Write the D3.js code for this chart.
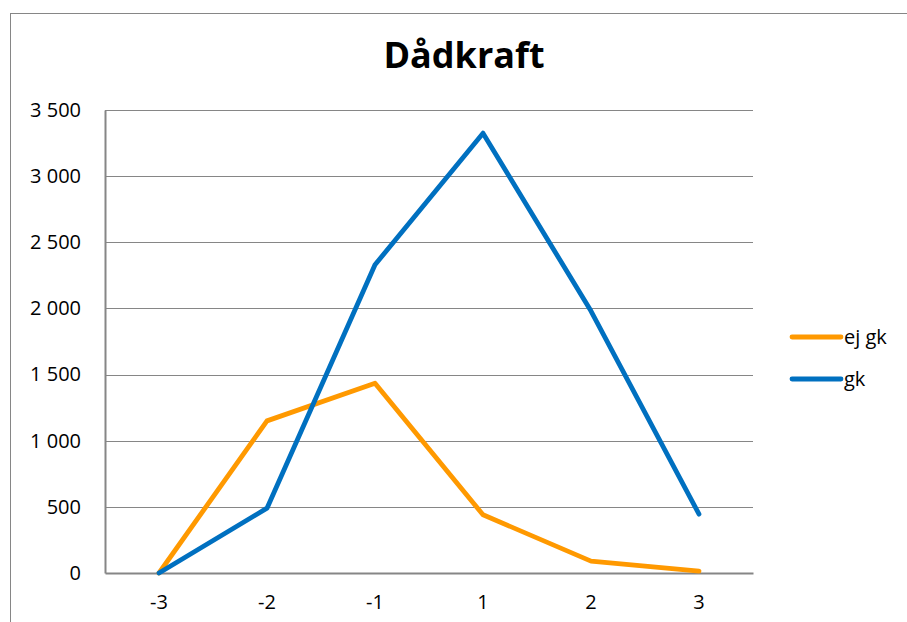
<!DOCTYPE html>
<html><head><meta charset="utf-8">
<script src="https://cdn.jsdelivr.net/npm/d3@7"></script>
<style>body{margin:0;background:#fff;} svg{display:block;}</style>
</head><body>
<script>
const categories = ["-3","-2","-1","1","2","3"];
const ejGk = [0, 1150, 1435, 440, 90, 15];
const gk = [0, 490, 2330, 3325, 1980, 445];
const yTicks = [0,500,1000,1500,2000,2500,3000,3500];
const seriesNames = ["ej gk","gk"];
const colors = ["#FF9900","#0070C0"];

(function(){
const W=907,H=622;
const svg=d3.select("body").append("svg").attr("width",W).attr("height",H);
const font="'Open Sans', Lato, sans-serif";
svg.append("rect").attr("x",10.5).attr("y",13.5).attr("width",W).attr("height",H)
  .attr("fill","#fff").attr("stroke","#868686").attr("stroke-width",1);

const pL=105, pR=753, pT=110, pB=573;
const x=d3.scaleBand().domain(categories).range([pL,pR]);
const y=d3.scaleLinear().domain([0,3500]).range([pB,pT]);

svg.append("g").selectAll("line").data(yTicks.filter(d=>d>0)).join("line")
  .attr("x1",pL).attr("x2",pR).attr("y1",d=>Math.round(y(d))+0.5).attr("y2",d=>Math.round(y(d))+0.5)
  .attr("stroke","#868686").attr("stroke-width",1);

const fmt=d=>d3.format(",")(d).replace(/,/g," ");
const yAxis=svg.append("g").attr("transform",`translate(${pL},0)`)
  .call(d3.axisLeft(y).tickValues(yTicks).tickFormat(fmt).tickSize(0).tickPadding(24));
yAxis.select(".domain").attr("stroke","#868686").attr("stroke-width",2);
yAxis.selectAll("text").attr("font-family",font).attr("font-size",20).attr("fill","#000");

const xAxis=svg.append("g").attr("transform",`translate(0,${pB})`)
  .call(d3.axisBottom(x).tickSize(0).tickPadding(22));
xAxis.select(".domain").attr("stroke","#868686").attr("stroke-width",2);
xAxis.selectAll("text").attr("font-family",font).attr("font-size",20).attr("fill","#000");

const line=d3.line().x((d,i)=>x(categories[i])+x.bandwidth()/2).y(d=>y(d));
[ejGk,gk].forEach((s,i)=>{
  svg.append("path").datum(s).attr("d",line).attr("fill","none")
    .attr("stroke",colors[i]).attr("stroke-width",4.8)
    .attr("stroke-linejoin","round").attr("stroke-linecap","round");
});

svg.append("text").attr("x",464).attr("y",68).attr("text-anchor","middle")
  .attr("font-family",font).attr("font-weight","bold").attr("font-size",36).text("Dådkraft");

const leg=svg.append("g");
seriesNames.forEach((n,i)=>{
  const ly=337+i*42;
  leg.append("line").attr("x1",792).attr("x2",841).attr("y1",ly).attr("y2",ly)
    .attr("stroke",colors[i]).attr("stroke-width",4.8).attr("stroke-linecap","round");
  leg.append("text").attr("x",844).attr("y",ly+7).attr("font-family",font).attr("font-size",20).text(n);
});
})();
</script>
</body></html>
